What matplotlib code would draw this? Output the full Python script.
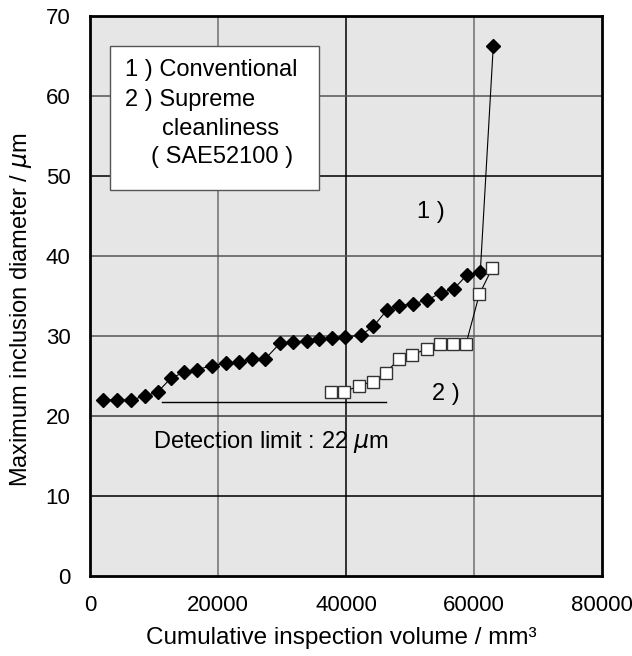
import matplotlib
matplotlib.use("Agg")
import matplotlib.pyplot as plt
from matplotlib.patches import Rectangle

plt.rcParams['font.family'] = ['Liberation Sans', 'DejaVu Sans']
plt.rcParams['mathtext.fontset'] = 'dejavusans'

# Series 1: Conventional
conv_x = [1984, 4172, 6406, 8594, 10578, 12609, 14734, 16766, 19109, 21203,
          23281, 25359, 27344, 29688, 31766, 33859, 35828, 37859, 39844, 42344,
          44266, 46359, 48328, 50422, 52703, 54844, 56875, 58859, 60984, 63016]
conv_y = [22.0, 22.0, 22.0, 22.5, 23.0, 24.7, 25.5, 25.8, 26.3, 26.6,
          26.7, 27.1, 27.1, 29.1, 29.2, 29.4, 29.6, 29.7, 29.9, 30.1,
          31.2, 33.2, 33.8, 34.0, 34.5, 35.4, 35.9, 37.6, 38.0, 66.3]

# Series 2: Supreme cleanliness
sup_x = [37656, 39688, 42078, 44172, 46203, 48234, 50266, 52609, 54688,
         56766, 58750, 60828, 62859]
sup_y = [23.0, 23.0, 23.8, 24.3, 25.4, 27.1, 27.6, 28.4, 29.0,
         29.0, 29.0, 35.2, 38.5]

# Detection limit line
det_x = [11300, 46300]
det_y = [21.7, 21.7]

x_ticks = [0, 20000, 40000, 60000, 80000]
y_ticks = [0, 10, 20, 30, 40, 50, 60, 70]
x_grid_colors = {20000: '#6e6e6e', 40000: '#000000', 60000: '#6e6e6e'}
y_grid_colors = {10: '#000000', 20: '#3c3c3c', 30: '#555555', 40: '#555555',
                 50: '#000000', 60: '#555555'}

fig = plt.figure(figsize=(6.32, 6.56), dpi=100)
ax = fig.add_axes([90/632, 1-576/656, 512/632, 560/656])
ax.set_facecolor('#e6e6e6')
ax.set_xlim(0, 80000)
ax.set_ylim(0, 70)

for xv, c in x_grid_colors.items():
    ax.axvline(xv, color=c, lw=1.1, zorder=1)
for yv, c in y_grid_colors.items():
    ax.axhline(yv, color=c, lw=1.1, zorder=1)

# legend box
ax.add_patch(Rectangle((3125, 48.2), 32700, 18.05, facecolor='white',
                       edgecolor='#555555', lw=1.0, zorder=2))
leg_lines = [("1 ) Conventional", 5500, 63.2),
             ("2 ) Supreme", 5500, 59.5),
             ("cleanliness", 11200, 55.9),
             ("( SAE52100 )", 9600, 52.4)]
for t, xx, yy in leg_lines:
    ax.text(xx, yy, t, fontsize=17, va='center', ha='left', zorder=3)

ax.plot(det_x, det_y, color='black', lw=1.0, zorder=3)
ax.text(9800, 16.8, r"Detection limit : 22 $\mu$m", fontsize=17,
        va='center', ha='left', zorder=3)

ax.plot(conv_x, conv_y, color='black', lw=0.8, marker='D', markersize=6.8,
        markerfacecolor='black', markeredgecolor='black', zorder=4)
ax.plot(sup_x, sup_y, color='black', lw=0.8, marker='s', markersize=8,
        markerfacecolor='white', markeredgecolor='#333333', markeredgewidth=1.0,
        zorder=4)

ax.text(53300, 45.5, "1 )", fontsize=17, va='center', ha='center', zorder=3)
ax.text(55600, 22.8, "2 )", fontsize=17, va='center', ha='center', zorder=3)

ax.set_xticks(x_ticks)
ax.set_yticks(y_ticks)
ax.tick_params(axis='both', length=0, labelsize=16)
ax.tick_params(axis='y', pad=14)
ax.tick_params(axis='x', pad=14)
for s in ax.spines.values():
    s.set_linewidth(2.0)
    s.set_color('black')

ax.set_xlabel("Cumulative inspection volume / mm³", fontsize=17.5)
ax.set_ylabel(r"Maximum inclusion diameter / $\mu$m", fontsize=17)
ax.xaxis.set_label_coords(0.49, -51/560)
ax.yaxis.set_label_coords(-56/512, 0.475)

fig.savefig("out.png", dpi=100)
